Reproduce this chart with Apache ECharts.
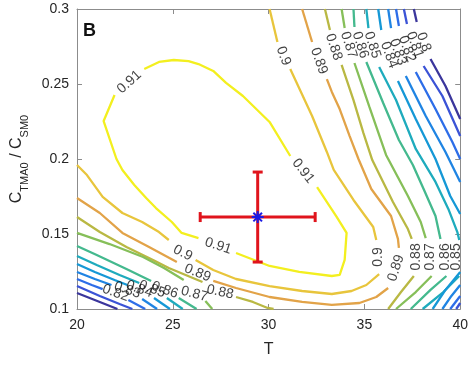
<!DOCTYPE html>
<html><head><meta charset="utf-8">
<script src="https://cdn.jsdelivr.net/npm/echarts@6/dist/echarts.min.js"></script>
<style>html,body{margin:0;padding:0;background:#fff}#c{width:471px;height:366px}</style>
</head><body><div id="c"></div>
<script>
// ---- data (T, C_TMA0/C_SM0); null = gap for an inline label ----
const xTicks = [20, 25, 30, 35, 40];
const yTicks = [0.1, 0.15, 0.2, 0.25, 0.3];
const levels = [0.91, 0.90, 0.89, 0.88, 0.87, 0.86, 0.85, 0.84, 0.83, 0.82, 0.81, 0.80];

const c091 = [[23.51,0.2600],[24.28,0.2647],[25.05,0.2660],[25.82,0.2653],[26.34,0.2633],[27.11,0.2587],[27.78,0.2507],[28.66,0.2420],[30.05,0.2247],[31.13,0.2020],null,
  [32.53,0.1813],[33.56,0.1613],[34.07,0.1507],[33.97,0.1327],[33.71,0.1227],[33.30,0.1220],[31.60,0.1247],[30.05,0.1287],[28.30,0.1373],null,
  [26.34,0.1473],[25.46,0.1507],[24.95,0.1580],[24.12,0.1673],[23.61,0.1740],[22.99,0.1827],[22.37,0.1927],[22.06,0.2000],[21.39,0.2253],[21.96,0.2427]];
const c090 = [[20,0.1960],[20.52,0.1893],[21.34,0.1747],[22.37,0.1640],[23.40,0.1580],[24.28,0.1513],[24.79,0.1460],null,
  [26.19,0.1327],[27.11,0.1260],[28.30,0.1200],[30.05,0.1153],[31.75,0.1120],[33.30,0.1100],[34.33,0.1120],[35.10,0.1160],[35.77,0.1233],null,
  [35.62,0.1460],[35.46,0.1547],[34.43,0.1727],[33.40,0.1927],[33.04,0.2047],[32.27,0.2287],[31.13,0.2600],null,
  [30.46,0.2780],[30.05,0.3000]];
const c089 = [[20,0.1740],[21.19,0.1640],[22.37,0.1507],[23.76,0.1413],[25.21,0.1313],null,
  [27.11,0.1187],[28.30,0.1140],[30.05,0.1080],[31.75,0.1047],[33.30,0.1027],[34.74,0.1040],[35.62,0.1080],[36.24,0.1140],null,
  [36.80,0.1407],[36.75,0.1467],[36.39,0.1620],[35.36,0.1800],[34.69,0.2000],[34.23,0.2153],[33.71,0.2333],[33.30,0.2447],[33.04,0.2533],null,
  [32.27,0.2780],[31.75,0.3000]];
const c088 = [[20,0.1613],[21.19,0.1513],[22.58,0.1413],[23.97,0.1327],[24.79,0.1273],[25.67,0.1227],[26.55,0.1180],null,
  [28.30,0.1080],[29.18,0.1047],[29.95,0.1007],[30.26,0.1000],null,
  [36.24,0.1000],[36.91,0.1113],[37.58,0.1220],null,
  [37.47,0.1467],[37.27,0.1533],[36.49,0.1713],[35.41,0.1993],[34.95,0.2173],[34.43,0.2393],[33.81,0.2627],null,
  [33.20,0.2860],[32.94,0.3000]];
const c087 = [[20,0.1507],[21.70,0.1433],[23.45,0.1347],[24.54,0.1273],[25.57,0.1193],null,
  [26.70,0.1053],[27.06,0.1000],null,
  [36.65,0.1000],[37.68,0.1113],[38.51,0.1220],null,
  [38.20,0.1473],[37.94,0.1580],[37.27,0.1753],[36.13,0.2027],[35.26,0.2347],[34.48,0.2640],null,
  [33.97,0.2873],[33.81,0.3000]];
const c086 = [[20,0.1420],[21.03,0.1360],[22.58,0.1267],[23.87,0.1187],null,
  [25.31,0.1073],[26.24,0.1000],null,
  [37.42,0.1000],[38.45,0.1127],[39.28,0.1220],null,
  [38.97,0.1467],[38.71,0.1620],[38.09,0.1800],[37.53,0.1960],[36.80,0.2127],[35.98,0.2373],[35.10,0.2647],null,
  [34.48,0.2880],[34.43,0.3000]];
const c085 = [[20,0.1353],[21.03,0.1293],[22.22,0.1227],[23.25,0.1173],null,
  [24.69,0.1073],[25.52,0.1000],null,
  [38.04,0.1000],[39.12,0.1113],[39.95,0.1220],null,
  [39.95,0.1460],[39.85,0.1513],[39.38,0.1667],[38.71,0.1847],[37.68,0.2067],[36.65,0.2393],[35.77,0.2613],null,
  [35.21,0.2873],[35.10,0.3000]];
const c084 = [[20,0.1300],[20.93,0.1247],[21.96,0.1193],[22.63,0.1160],null,
  [24.02,0.1073],[24.85,0.1000],null,
  [38.56,0.1000],[39.23,0.1127],[40,0.1247],null,
  [40,0.1633],[39.48,0.1753],[38.71,0.2000],[37.68,0.2267],[36.75,0.2520],null,
  [35.88,0.2860],[35.72,0.3000]];
const c083 = [[20,0.1247],[20.93,0.1200],[21.80,0.1160],null,
  [23.40,0.1067],[24.18,0.1000],null,
  [39.07,0.1000],[39.54,0.1087],[40,0.1160],null,
  [40,0.1847],[39.23,0.2047],[38.20,0.2287],[37.16,0.2553],null,
  [36.39,0.2873],[36.24,0.3000]];
const c082 = [[20,0.1200],[20.77,0.1160],[21.34,0.1133],null,
  [22.68,0.1060],[23.56,0.1000],null,
  [39.48,0.1000],[40,0.1087],null,
  [40,0.2000],[39.59,0.2113],[38.71,0.2333],[37.68,0.2580],null,
  [36.80,0.2887],[36.65,0.3000]];
const c081 = [[20,0.1153],[21.19,0.1087],[22.22,0.1033],[22.89,0.1000],null,
  [39.79,0.1000],[40,0.1040],null,
  [40,0.2153],[39.07,0.2420],[38.09,0.2620],null,
  [37.22,0.2900],[37.06,0.3000]];
const c080 = [[20,0.1107],[21.19,0.1047],[22.11,0.1000],null,
  [40,0.2267],[39.23,0.2487],[38.45,0.2667],null,
  [37.73,0.2913],[37.58,0.3000]];

// inline contour labels
const labelText = ['0.91','0.91','0.91','0.9','0.9','0.9','0.89','0.89','0.89','0.88','0.88','0.88',
  '0.87','0.87','0.87','0.86','0.86','0.86','0.85','0.85','0.85','0.84','0.84','0.83','0.83','0.82','0.82','0.81','0.8'];
const labelT = [22.73,31.80,27.37,25.52,35.72,30.77,26.29,36.65,32.63,27.47,37.68,33.40,
  26.13,38.45,34.18,24.59,39.23,34.79,23.92,39.79,35.41,23.25,36.29,22.63,36.75,22.01,37.22,37.63,38.09];
const labelC = [0.2513,0.1920,0.1420,0.1373,0.1347,0.2687,0.1240,0.1273,0.2653,0.1113,0.1347,0.2747,
  0.1100,0.1347,0.2760,0.1127,0.1347,0.2760,0.1133,0.1347,0.2760,0.1133,0.2693,0.1127,0.2713,0.1107,0.2733,0.2760,0.2780];
const labelAngle = [42,-52,-18,-28,90,-70,-22,72,-70,-12,90,-72,
  -15,90,-72,-20,90,-72,-20,90,-72,-20,-70,-20,-70,-20,-70,-70,-70];

// estimate with error bars
const estT = 29.43, estC = 0.1613, errT = 3.0, errC = 0.03;

// ---- styling ----
const lineData = [c091,c090,c089,c088,c087,c086,c085,c084,c083,c082,c081,c080];
const colors = ['#f3ef1f','#e8c53c','#e2a348','#b9b843','#86bf59','#44b98e','#1eabbd','#1598d6','#1f84e3','#2d6de8','#3b53d6','#3b369c'];
const FONT = '"Liberation Sans", Arial, sans-serif';

function segments(arr){const segs=[];let cur=[];arr.forEach(p=>{if(p===null){if(cur.length)segs.push(cur);cur=[];}else cur.push(p);});if(cur.length)segs.push(cur);return segs;}

const series = [];
lineData.forEach((arr,i)=>{
  segments(arr).forEach(seg=>{
    series.push({type:'line',data:seg,showSymbol:false,symbol:'none',silent:true,animation:false,
      lineStyle:{color:colors[i],width:2.3},z:2});
  });
});
series.push({type:'scatter',symbolSize:0,silent:true,animation:false,clip:false,z:5,
  data:labelText.map((t,i)=>({value:[labelT[i],labelC[i]],label:{formatter:t,rotate:labelAngle[i]}})),
  label:{show:true,position:'inside',color:'#111',fontSize:14,fontFamily:FONT}});
series.push({type:'custom',silent:true,animation:false,z:6,data:[[estT,estC]],
  renderItem:function(params,api){
    const c=api.coord([estT,estC]), l=api.coord([estT-errT,estC]), r=api.coord([estT+errT,estC]);
    const t=api.coord([estT,estC+errC]), b=api.coord([estT,estC-errC]);
    const cap=5, red='#e0141c', blue='#1a1ae6', s=6, d=4.3;
    const ln=(x1,y1,x2,y2,col,w)=>({type:'line',shape:{x1,y1,x2,y2},style:{stroke:col,lineWidth:w}});
    return {type:'group',children:[
      ln(l[0],l[1],r[0],r[1],red,3), ln(t[0],t[1],b[0],b[1],red,3),
      ln(l[0],l[1]-cap,l[0],l[1]+cap,red,3), ln(r[0],r[1]-cap,r[0],r[1]+cap,red,3),
      ln(t[0]-cap,t[1],t[0]+cap,t[1],red,3), ln(b[0]-cap,b[1],b[0]+cap,b[1],red,3),
      ln(c[0]-s,c[1],c[0]+s,c[1],blue,2), ln(c[0],c[1]-s,c[0],c[1]+s,blue,2),
      ln(c[0]-d,c[1]-d,c[0]+d,c[1]+d,blue,2), ln(c[0]-d,c[1]+d,c[0]+d,c[1]-d,blue,2)
    ]};
  }});

const axisCol = '#8c8c8c';
const baseX = {type:'value',min:xTicks[0],max:xTicks[xTicks.length-1],interval:5,splitLine:{show:false},
  axisLine:{lineStyle:{color:axisCol,width:1}},axisTick:{inside:true,length:5,lineStyle:{color:axisCol}}};
const baseY = {type:'value',min:yTicks[0],max:yTicks[yTicks.length-1],interval:0.05,splitLine:{show:false},
  axisLine:{lineStyle:{color:axisCol,width:1}},axisTick:{inside:true,length:5,lineStyle:{color:axisCol}}};

const chart = echarts.init(document.getElementById('c'),null,{renderer:'canvas'});
chart.setOption({
  animation:false,
  backgroundColor:'#fff',
  grid:{left:77,right:6,top:9,bottom:57,containLabel:false},
  xAxis:[Object.assign({},baseX,{position:'bottom',name:'T',nameLocation:'middle',nameGap:33,
      nameTextStyle:{fontSize:16,color:'#262626',fontFamily:FONT},
      axisLabel:{fontSize:14,color:'#262626',margin:9,fontFamily:FONT}}),
    Object.assign({},baseX,{position:'top',axisLabel:{show:false}})],
  yAxis:[Object.assign({},baseY,{position:'left',
      name:'{c|C}{s|TMA0}{c| / C}{s|SM0}',nameLocation:'middle',nameGap:38,nameRotate:90,
      nameTextStyle:{color:'#262626',fontFamily:FONT,
        rich:{c:{fontSize:16,lineHeight:22,verticalAlign:'top',color:'#262626',fontFamily:FONT},
              s:{fontSize:11,lineHeight:11,verticalAlign:'bottom',color:'#262626',fontFamily:FONT}}},
      axisLabel:{fontSize:14,color:'#262626',margin:8,fontFamily:FONT}}),
    Object.assign({},baseY,{position:'right',axisLabel:{show:false}})],
  graphic:[{type:'text',left:83,top:22,style:{text:'B',fontSize:18,fontWeight:'bold',fill:'#111',fontFamily:FONT}}],
  series:series
});
</script></body></html>
